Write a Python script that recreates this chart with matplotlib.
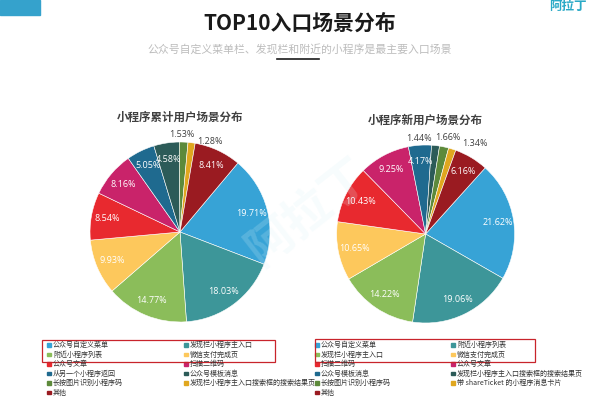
#Draw TOP10 entry scene pies

import matplotlib
matplotlib.use('Agg')
import matplotlib.pyplot as plt
import numpy as np

plt.rcParams['font.family'] = ['Noto Sans CJK SC', 'DejaVu Sans']

title = 'TOP10入口场景分布'
subtitle = '公众号自定义菜单栏、发现栏和附近的小程序是最主要入口场景'

left_title = '小程序累计用户场景分布'
left_labels = ['公众号自定义菜单', '发现栏小程序主入口', '附近小程序列表', '微信支付完成页',
               '公众号文章', '扫描二维码', '从另一个小程序返回', '公众号模板消息',
               '长按图片识别小程序码', '发现栏小程序主入口搜索框的搜索结果页', '其他']
left_values = [19.71, 18.03, 14.77, 9.93, 8.54, 8.16, 5.05, 4.58, 1.53, 1.28, 8.41]

right_title = '小程序新用户场景分布'
right_labels = ['公众号自定义菜单', '附近小程序列表', '发现栏小程序主入口', '微信支付完成页',
                '扫描二维码', '公众号文章', '公众号模板消息', '发现栏小程序主入口搜索框的搜索结果页',
                '长按图片识别小程序码', '带 shareTicket 的小程序消息卡片', '其他']
right_values = [21.62, 19.06, 14.22, 10.65, 10.43, 9.25, 4.17, 1.44, 1.66, 1.34, 6.16]

colors = ['#37a3d6', '#3d9699', '#8bbd5a', '#fdc85c', '#e8292f', '#c9236a',
          '#1f6a8f', '#2c5b58', '#5d8a3b', '#e0a71f', '#9a1b21']

fig = plt.figure(figsize=(6, 4), dpi=100)
fig.patch.set_facecolor('white')

# header
fig.patches.append(plt.Rectangle((0, 1 - 15 / 400), 40 / 600, 15 / 400, transform=fig.transFigure,
                                 color='#35a2cc', zorder=0))
fig.text(0.5, 1 - 23 / 400, title, ha='center', va='center', fontsize=15, fontweight='bold', color='#1a1a1a')
fig.text(0.5, 1 - 49 / 400, subtitle, ha='center', va='center', fontsize=7.8, color='#bcbcbc')
fig.lines.append(plt.Line2D([277 / 600, 319 / 600], [1 - 59 / 400, 1 - 59 / 400], transform=fig.transFigure,
                            color='#1a1a1a', lw=1.2))
fig.text(568 / 600, 1 - 6 / 400, '阿拉丁', ha='center', va='center', fontsize=9, fontweight='bold',
         color='#2aa9c6')

# (left, bottom, width, height), startangle, nudges for the small outside labels
pies = [
    (left_title, left_labels, left_values, [0.15, 0.195, 0.30, 0.45], 50,
     [(-0.02, 0.0), (0.19, -0.07)], [49 / 600, 186 / 600], (42, 340, 275, 362)),
    (right_title, right_labels, right_values, [0.561, 0.1925, 0.2967, 0.445], 48,
     [(-0.2, 0.0), (0.03, 0.03), (0.23, -0.01)], [317 / 600, 453 / 600], (315, 339, 535, 362)),
]

for ptitle, labels, values, rect, start, nudges, legx, box in pies:
    ax = fig.add_axes(rect)
    wedges, _ = ax.pie(values, colors=colors, startangle=start, counterclock=False,
                       wedgeprops=dict(linewidth=0.4, edgecolor='white'))
    ax.set_xlim(-1, 1)
    ax.set_ylim(-1, 1)
    ax.set_aspect('equal')
    ax.axis('off')
    ax.text(0, 1.28, ptitle, ha='center', va='center', fontsize=8.3, fontweight='bold', color='#404040')

    k = 0
    for w, v in zip(wedges, values):
        mid = np.deg2rad((w.theta1 + w.theta2) / 2)
        txt = '{:.2f}%'.format(v)
        if v >= 2:
            r = 0.82
            ax.text(r * np.cos(mid), r * np.sin(mid), txt, ha='center', va='center',
                    fontsize=6.5, color='white', family=['Open Sans', 'DejaVu Sans'])
        else:
            r = 1.08
            dx, dy = nudges[k]
            k += 1
            ax.text(r * np.cos(mid) + dx, r * np.sin(mid) + dy, txt, ha='center', va='center',
                    fontsize=6.5, color='#404040', family=['Open Sans', 'DejaVu Sans'], clip_on=False)

    # legend, two columns filled row by row
    for i, (lab, c) in enumerate(zip(labels, colors)):
        row, col = divmod(i, 2)
        y = 1 - (345 + row * 9.5) / 400
        x = legx[col]
        fig.patches.append(plt.Rectangle((x - 1.6 / 600, y - 1.6 / 400), 3.2 / 600, 3.2 / 400,
                                         transform=fig.transFigure, color=c))
        fig.text(x + 4 / 600, y, lab, ha='left', va='center', fontsize=5.05, color='#333333')

    x0, y0, x1, y1 = box
    fig.patches.append(plt.Rectangle((x0 / 600, 1 - y1 / 400), (x1 - x0) / 600, (y1 - y0) / 400,
                                     transform=fig.transFigure, fill=False, edgecolor='#c8242b', lw=0.9))

# faint watermark
fig.text(308 / 600, 1 - 212 / 400, '阿拉丁', ha='center', va='center', fontsize=34, fontweight='bold',
         rotation=38, color='#d8f1f7', alpha=0.2, zorder=10)

fig.savefig('out.png', dpi=100)
